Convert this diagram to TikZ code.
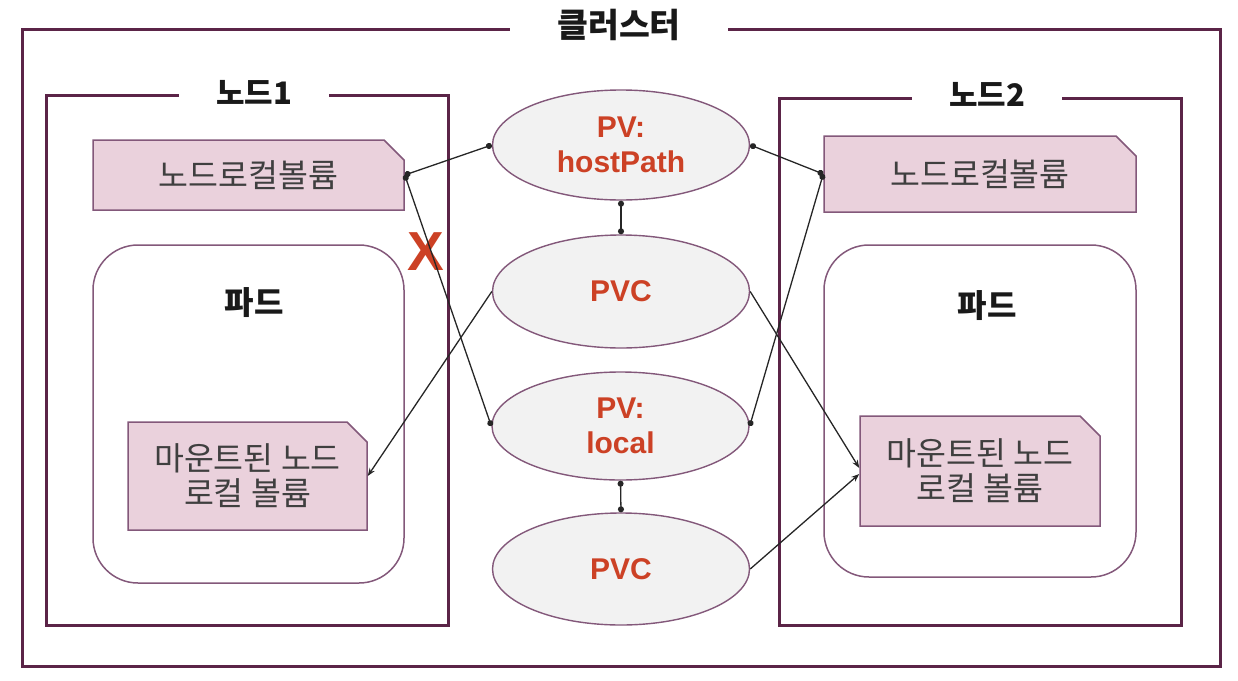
\documentclass[tikz,border=0pt]{standalone}
\usepackage{fontspec}
\setmainfont{Noto Sans CJK KR}
\newfontfamily\latf{Liberation Sans}
\usetikzlibrary{shapes.geometric,shapes.misc,arrows.meta}
\definecolor{frame}{HTML}{5B2447}
\definecolor{lineP}{HTML}{83587A}
\definecolor{notefill}{HTML}{EAD1DC}
\definecolor{ellfill}{HTML}{F2F2F2}
\definecolor{pvred}{HTML}{CC4125}
\definecolor{txtgray}{HTML}{3F3F3F}
\begin{document}
\begin{tikzpicture}[x=1pt,y=-1pt,
  frm/.style={draw=frame,line width=3pt,inner sep=0pt},
  ttl/.style={fill=white,text=black!90,font=\bfseries\fontsize{31}{32}\selectfont,inner ysep=3pt},
  notebox/.style={chamfered rectangle,chamfered rectangle corners=north east,
    chamfered rectangle xsep=10pt,chamfered rectangle ysep=10pt,
    draw=lineP,fill=notefill,line width=1.5pt,inner sep=0pt,
    text=txtgray,align=center,font=\fontsize{32.5}{35}\selectfont},
  podbox/.style={draw=lineP,line width=1.5pt,rounded corners=45pt,inner sep=0pt},
  pv/.style={ellipse,draw=lineP,fill=ellfill,line width=1.4pt,inner sep=0pt,
    minimum width=257pt,minimum height=110pt,text=pvred,align=center,
    font=\latf\bfseries\fontsize{30}{35}\selectfont},
  podlbl/.style={text=black!90,font=\bfseries\fontsize{32}{33}\selectfont},
  conn/.style={draw=black!85,line width=1.3pt},
  dotdot/.style={{Circle[length=6pt]}-{Circle[length=6pt]}},
  arr/.style={-{Stealth[length=8pt,width=6pt]}}
]
\useasboundingbox (0,0) rectangle (1238,680);
% frames
\node[frm,minimum width=1198pt,minimum height=637pt] (cl) at (621,347.5) {};
\node[ttl,inner xsep=47pt,font=\bfseries\fontsize{33.5}{34}\selectfont] (clt) at (619,25) {클러스터};
\node[frm,minimum width=402pt,minimum height=530pt] (n1) at (247,360) {};
\node[ttl,inner xsep=37pt] (n1t) at (254,92) {노드1};
\node[frm,minimum width=402pt,minimum height=527pt] (n2) at (980,361.5) {};
\node[ttl,inner xsep=37pt] (n2t) at (987,94) {노드2};
% pods
\node[podbox,minimum width=311pt,minimum height=338pt] (lp) at (248.5,414) {};
\node[podlbl] (lpt) at (254,303) {파드};
\node[podbox,minimum width=312pt,minimum height=332pt] (rp) at (980,411) {};
\node[podlbl] (rpt) at (987,306) {파드};
% notes
\node[notebox,minimum width=311pt,minimum height=70pt] (ln) at (248.5,175) {노드로컬볼륨};
\node[notebox,minimum width=312pt,minimum height=76pt] (rn) at (980,174) {노드로컬볼륨};
\node[notebox,minimum width=239pt,minimum height=108pt] (lm) at (247.5,476) {마운트된 노드\\로컬 볼륨};
\node[notebox,minimum width=240pt,minimum height=110pt] (rm) at (980,471) {마운트된 노드\\로컬 볼륨};
% PVs
\node[pv] (pvh) at (621,145) {PV:\\hostPath};
\node[pv,minimum height=113pt] (pvc1) at (621,291.5) {PVC};
\node[pv,minimum height=108pt] (pvl) at (620.5,426) {PV:\\local};
\node[pv,minimum height=112pt] (pvc2) at (621,569) {PVC};
% X mark
\node[text=pvred,font=\latf\bfseries\fontsize{55}{55}\selectfont,inner sep=0pt] (xm) at (426,252) {X};
% connectors
\draw[conn,dotdot] (ln.east) -- (pvh.west);
\draw[conn,dotdot] (ln.east) -- (pvl.west);
\draw[conn,arr] (pvc1.west) -- (lm.east);
\draw[conn,dotdot] (pvh.east) -- (rn.west);
\draw[conn,dotdot] (rn.west) -- (pvl.east);
\draw[conn,arr] (pvc1.east) -- ([yshift=3pt]rm.west);
\draw[conn,arr] (pvc2.east) -- ([yshift=-3pt]rm.west);
\draw[conn,dotdot] (pvh.south) -- (pvc1.north);
\draw[conn,dotdot] (pvl.south) -- (pvc2.north);
\end{tikzpicture}
\end{document}
